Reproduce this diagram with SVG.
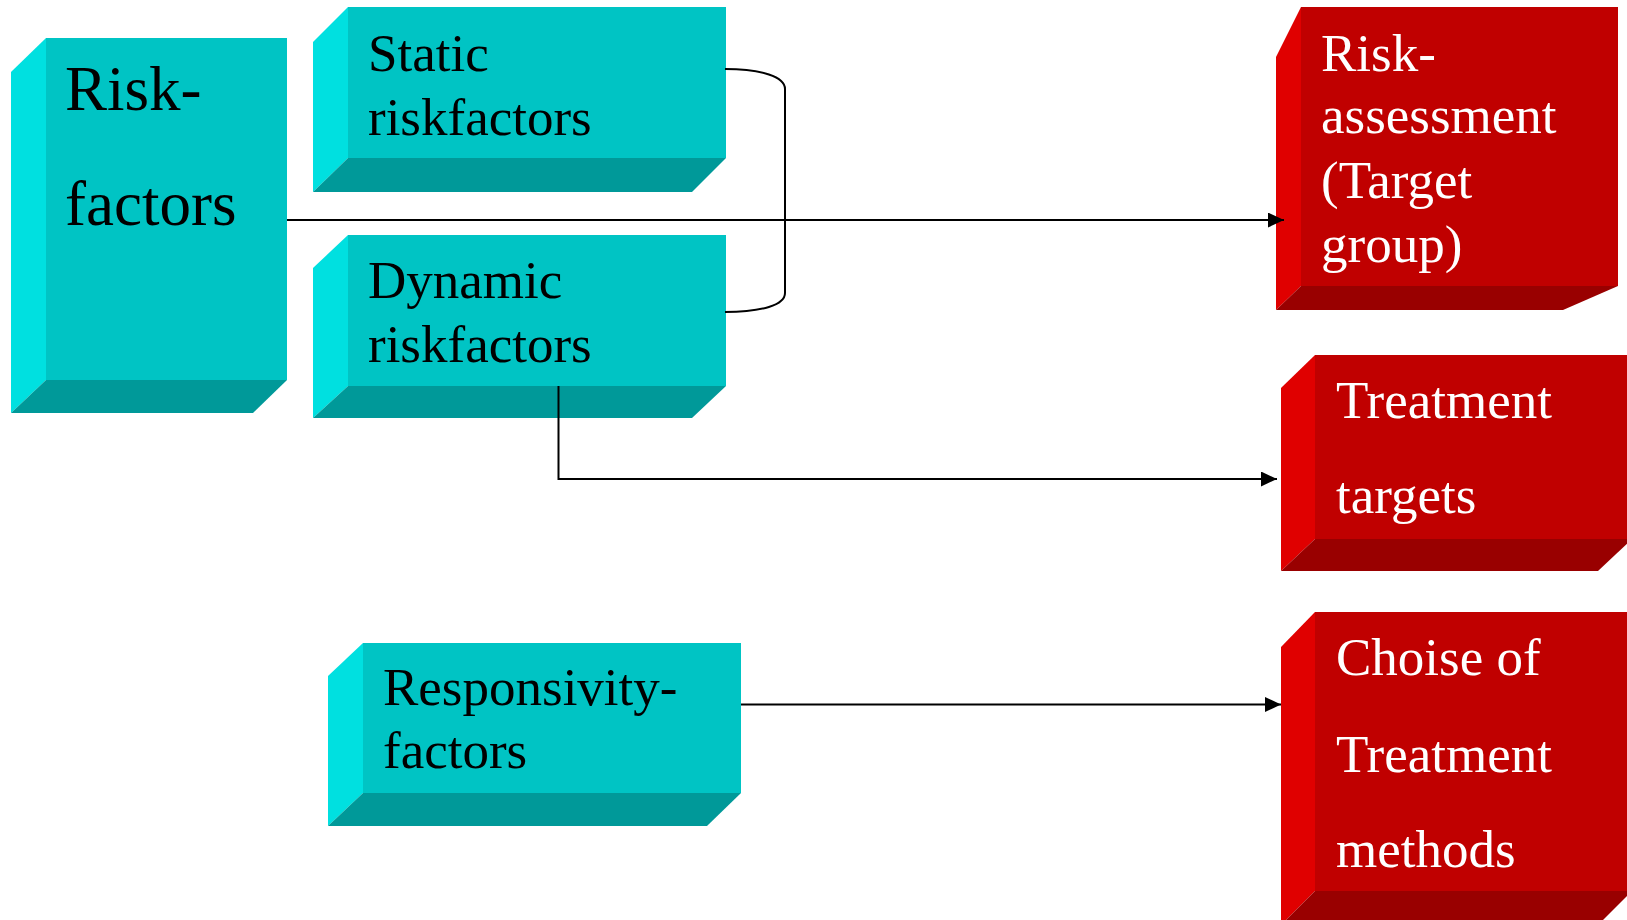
<svg xmlns="http://www.w3.org/2000/svg" width="1627" height="920" viewBox="0 0 1627 920">
  <style>
    .tf { fill: #00C4C4; }
    .tl { fill: #00E0E0; }
    .tb { fill: #009999; }
    .rf { fill: #C00000; }
    .rl { fill: #E00000; }
    .rb { fill: #990000; }
    .txt { font-family: "Liberation Serif", "Times New Roman", serif; }
    .dark { fill: #000000; }
    .light { fill: #FFFFFF; }
    .conn { fill: none; stroke: #000000; stroke-width: 2; }
  </style>
  <defs>
    <marker id="arrow" markerUnits="userSpaceOnUse" markerWidth="16" markerHeight="15" refX="16" refY="7.5" orient="auto">
      <path d="M0,0 L16,7.5 L0,15 Z" fill="#000000"/>
    </marker>
  </defs>

  <rect width="1627" height="920" fill="#FFFFFF"/>

  <!-- Risk-factors -->
  <g id="risk-factors">
    <polygon class="tl" points="11,72 46,38 46,380 11,413"/>
    <polygon class="tb" points="11,413 46,380 287,380 253,413"/>
    <rect class="tf" x="46" y="38" width="241" height="342"/>
    <text class="txt dark" font-size="63" x="65" y="110">Risk-</text>
    <text class="txt dark" font-size="63" x="65" y="225">factors</text>
  </g>

  <!-- Static riskfactors -->
  <g id="static-riskfactors">
    <polygon class="tl" points="313,42 348,7 348,158 313,192"/>
    <polygon class="tb" points="313,192 348,158 726,158 692,192"/>
    <rect class="tf" x="348" y="7" width="378" height="151"/>
    <text class="txt dark" font-size="53" x="368" y="71">Static</text>
    <text class="txt dark" font-size="53" x="368" y="135">riskfactors</text>
  </g>

  <!-- Dynamic riskfactors -->
  <g id="dynamic-riskfactors">
    <polygon class="tl" points="313,268 348,235 348,386 313,418"/>
    <polygon class="tb" points="313,418 348,386 726,386 692,418"/>
    <rect class="tf" x="348" y="235" width="378" height="151"/>
    <text class="txt dark" font-size="53" x="368" y="298">Dynamic</text>
    <text class="txt dark" font-size="53" x="368" y="362">riskfactors</text>
  </g>

  <!-- Responsivity-factors -->
  <g id="responsivity-factors">
    <polygon class="tl" points="328,676 363,643 363,793 328,826"/>
    <polygon class="tb" points="328,826 363,793 741,793 707,826"/>
    <rect class="tf" x="363" y="643" width="378" height="150"/>
    <text class="txt dark" font-size="53" x="383" y="705">Responsivity-</text>
    <text class="txt dark" font-size="53" x="383" y="768">factors</text>
  </g>

  <!-- Risk-assessment -->
  <g id="risk-assessment">
    <polygon class="rl" points="1276,57 1301,7 1301,286 1276,310"/>
    <polygon class="rb" points="1276,310 1301,286 1618,286 1563,310"/>
    <rect class="rf" x="1301" y="7" width="317" height="279"/>
    <text class="txt light" font-size="53" x="1321" y="71">Risk-</text>
    <text class="txt light" font-size="53" x="1321" y="133">assessment</text>
    <text class="txt light" font-size="53" x="1321" y="198">(Target</text>
    <text class="txt light" font-size="53" x="1321" y="262">group)</text>
  </g>

  <!-- Treatment targets -->
  <g id="treatment-targets">
    <polygon class="rl" points="1281,388 1315,355 1315,539 1281,571"/>
    <polygon class="rb" points="1281,571 1315,539 1632,539 1598,571"/>
    <rect class="rf" x="1315" y="355" width="317" height="184"/>
    <text class="txt light" font-size="53" x="1336" y="418">Treatment</text>
    <text class="txt light" font-size="53" x="1336" y="513">targets</text>
  </g>

  <!-- Choise of Treatment methods -->
  <g id="treatment-methods">
    <polygon class="rl" points="1281,647 1315,612 1315,891 1281,925"/>
    <polygon class="rb" points="1281,925 1315,891 1632,891 1598,925"/>
    <rect class="rf" x="1315" y="612" width="317" height="279"/>
    <text class="txt light" font-size="53" x="1336" y="675">Choise of</text>
    <text class="txt light" font-size="53" x="1336" y="772">Treatment</text>
    <text class="txt light" font-size="53" x="1336" y="867">methods</text>
  </g>

  <!-- Connectors -->
  <g id="connectors">
    <path class="conn" d="M725,69 C762,69 785,77 785,89 V293 C785,305 762,312 725,312"/>
    <path class="conn" d="M287,220 H1284" marker-end="url(#arrow)"/>
    <path class="conn" d="M558.5,386 V479 H1277" marker-end="url(#arrow)"/>
    <path class="conn" d="M741,704.5 H1281" marker-end="url(#arrow)"/>
  </g>
</svg>
